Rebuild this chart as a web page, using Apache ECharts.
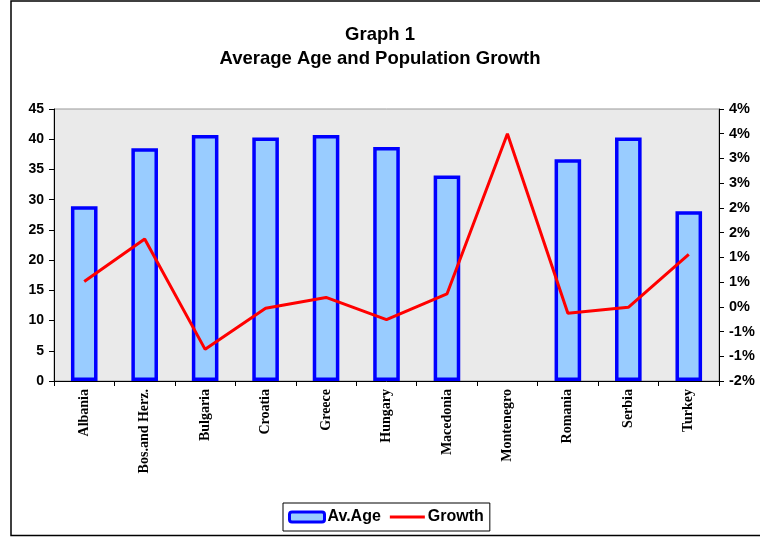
<!DOCTYPE html>
<html>
<head>
<meta charset="utf-8">
<script src="https://cdn.jsdelivr.net/npm/echarts@6/dist/echarts.min.js"></script>
<style>
html,body{margin:0;padding:0;background:#fff;}
#chart{width:760px;height:538px;}
</style>
</head>
<body>
<div id="chart"></div>
<script>
var categories = ['Albania','Bos.and Herz.','Bulgaria','Croatia','Greece','Hungary','Macedonia','Montenegro','Romania','Serbia','Turkey'];
var avAge = [28.9, 38.5, 40.7, 40.3, 40.7, 38.7, 34.0, null, 36.7, 40.3, 28.1];
var growth = [0.51, 1.37, -0.86, -0.03, 0.19, -0.26, 0.26, 3.5, -0.13, -0.01, 1.06];
var leftTicks = {min: 0, max: 45, interval: 5};
var rightTicks = {min: -1.5, max: 4, interval: 0.5};

var chart = echarts.init(document.getElementById('chart'), null, {renderer: 'canvas'});
var sans = 'Liberation Sans, Arial, sans-serif';
var serif = 'Liberation Serif, Times New Roman, serif';

function pctFmt(v) {
  var r = Math.round(Math.abs(v));
  if (r === 0) return '0%';
  return (v < 0 ? '-' : '') + r + '%';
}

chart.setOption({
  animation: false,
  backgroundColor: '#ffffff',
  title: {
    text: 'Graph 1\nAverage Age and Population Growth',
    left: 'center',
    top: 18,
    textStyle: {fontFamily: sans, fontWeight: 'bold', fontSize: 18.5, color: '#000', lineHeight: 24}
  },
  graphic: [{
    type: 'polyline',
    silent: true,
    shape: {points: [[780, 1], [11, 1], [11, 535.5], [780, 535.5]]},
    style: {stroke: '#000', lineWidth: 1.5, fill: null}
  }],
  legend: {
    left: 283,
    top: 503,
    itemWidth: 35,
    itemHeight: 10,
    itemGap: 9,
    padding: [6, 6, 6, 5],
    borderColor: '#000',
    borderWidth: 1,
    backgroundColor: '#fff',
    textStyle: {fontFamily: sans, fontWeight: 'bold', fontSize: 16, color: '#000', padding: [0, 0, 0, -2]},
    data: [
      {name: 'Av.Age', itemStyle: {color: '#99CCFF', borderColor: '#0000FF', borderWidth: 3}},
      {name: 'Growth', icon: 'path://M0,0 L35,0 L35,3 L0,3 Z', itemStyle: {color: '#FF0000', borderWidth: 0}}
    ]
  },
  grid: {
    left: 54, right: 41, top: 109, bottom: 157,
    show: true,
    backgroundColor: '#EAEAEA',
    borderColor: '#999999',
    borderWidth: 1,
    containLabel: false
  },
  xAxis: {
    type: 'category',
    data: categories,
    boundaryGap: true,
    axisLine: {lineStyle: {color: '#000', width: 1}},
    axisTick: {show: true, alignWithLabel: false, inside: false, length: 5, lineStyle: {color: '#000'}},
    axisLabel: {rotate: 90, interval: 0, margin: 8, fontFamily: serif, fontWeight: 'bold', fontSize: 14, color: '#000'},
    splitLine: {show: false}
  },
  yAxis: [{
    type: 'value',
    min: leftTicks.min, max: leftTicks.max, interval: leftTicks.interval,
    position: 'left',
    axisLine: {show: true, lineStyle: {color: '#000', width: 1}},
    axisTick: {show: true, inside: false, length: 5, lineStyle: {color: '#000'}},
    axisLabel: {margin: 10, fontFamily: sans, fontWeight: 'bold', fontSize: 14, color: '#000'},
    splitLine: {show: false}
  }, {
    type: 'value',
    min: rightTicks.min, max: rightTicks.max, interval: rightTicks.interval,
    position: 'right',
    axisLine: {show: true, lineStyle: {color: '#000', width: 1}},
    axisTick: {show: true, inside: false, length: 5, lineStyle: {color: '#000'}},
    axisLabel: {margin: 10, fontFamily: sans, fontWeight: 'bold', fontSize: 14.5, color: '#000', formatter: pctFmt},
    splitLine: {show: false}
  }],
  series: [{
    name: 'Av.Age',
    type: 'bar',
    yAxisIndex: 0,
    data: avAge,
    barWidth: '44%',
    itemStyle: {color: '#99CCFF', borderColor: '#0000FF', borderWidth: 3.5}
  }, {
    name: 'Growth',
    type: 'line',
    yAxisIndex: 1,
    data: growth,
    symbol: 'none',
    lineStyle: {color: '#FF0000', width: 3},
    itemStyle: {color: '#FF0000'}
  }]
});
</script>
</body>
</html>
